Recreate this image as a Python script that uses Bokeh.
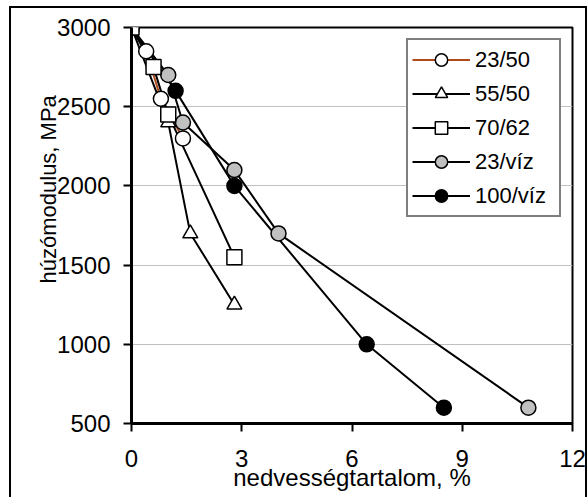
from bokeh.plotting import figure
from bokeh.models import Legend, LegendItem, FixedTicker, Range1d, Title
from bokeh.embed import file_html
from bokeh.resources import INLINE

# ---- data ----
x_23_50 = [0, 0.4, 0.8, 1.4]
y_23_50 = [3000, 2850, 2550, 2300]

x_55_50 = [0, 1.0, 1.6, 2.8]
y_55_50 = [3000, 2400, 1700, 1250]

x_70_62 = [0, 0.6, 1.0, 2.8]
y_70_62 = [3000, 2750, 2450, 1550]

x_23_viz = [0, 1.0, 1.4, 2.8, 4.0, 10.8]
y_23_viz = [3000, 2700, 2400, 2100, 1700, 600]

x_100_viz = [0, 1.2, 2.8, 6.4, 8.5]
y_100_viz = [3000, 2600, 2000, 1000, 600]

x_ticks = [0, 3, 6, 9, 12]
y_ticks = [500, 1000, 1500, 2000, 2500, 3000]

x_title = "nedvességtartalom, %"
y_title = "húzómodulus, MPa"

FONT = "Liberation Sans"
AFS = "24px"
YTFS = "22px"
LFS = "22px"

p = figure(width=588, height=497, output_backend="svg", toolbar_location=None,
           x_range=Range1d(0, 12), y_range=Range1d(500, 3000),
           min_border_left=131, min_border_top=27, min_border_right=16, min_border_bottom=74)
p.styles = {
    "background-color": "white",
    "background-image": "linear-gradient(#000,#000), linear-gradient(#000,#000), linear-gradient(#000,#000)",
    "background-position": "9px 6px, 9px 6px, 585px 6px",
    "background-size": "2px 100%, 578px 2px, 2px 100%",
    "background-repeat": "no-repeat",
}

p.background_fill_color = "white"
p.border_fill_color = None
p.outline_line_color = "black"
p.outline_line_width = 2

p.xgrid.visible = False
p.ygrid.grid_line_color = "#C0C0C0"
p.ygrid.grid_line_width = 1
p.ygrid.ticker = FixedTicker(ticks=y_ticks)

p.xaxis.ticker = FixedTicker(ticks=x_ticks)
p.yaxis.ticker = FixedTicker(ticks=y_ticks)
for ax in (p.xaxis[0], p.yaxis[0]):
    ax.axis_line_width = 3
    ax.axis_line_color = "black"
    ax.major_tick_in = 0
    ax.major_tick_out = 8
    ax.major_tick_line_width = 2
    ax.major_tick_line_color = "black"
    ax.minor_tick_line_color = None
    ax.major_label_text_font = FONT
    ax.major_label_text_font_size = AFS
    ax.major_label_text_color = "black"
    ax.axis_label_text_font = FONT
    ax.axis_label_text_font_size = AFS
    ax.axis_label_text_font_style = "normal"
    ax.axis_label_text_color = "black"

p.xaxis.axis_label = x_title
p.yaxis.major_label_standoff = 13
p.xaxis.major_label_standoff = 18
p.xaxis.axis_label_standoff = -6

# y-axis title, placed higher along the axis as in the original
p.add_layout(Title(text=y_title, align="left", offset=140, standoff=-12,
                   text_font=FONT, text_font_size=YTFS, text_font_style="normal",
                   text_color="black"), "left")

BROWN = "#B04A1C"
GRAY = "#C0C0C0"
MS = 15

# lines
l1 = p.line(x_23_50, y_23_50, line_color=BROWN, line_width=2)
l2 = p.line(x_55_50, y_55_50, line_color="black", line_width=2)
l3 = p.line(x_70_62, y_70_62, line_color="black", line_width=2)
l4 = p.line(x_23_viz, y_23_viz, line_color="black", line_width=2)
l5 = p.line(x_100_viz, y_100_viz, line_color="black", line_width=2)

# markers
m4 = p.scatter(x_23_viz, y_23_viz, marker="circle", size=MS, fill_color=GRAY,
               line_color="black", line_width=1.5)
m5 = p.scatter(x_100_viz, y_100_viz, marker="circle", size=MS, fill_color="black",
               line_color="black", line_width=1.5)
m1 = p.scatter(x_23_50, y_23_50, marker="circle", size=MS, fill_color="white",
               line_color="black", line_width=1.5)
m2 = p.scatter(x_55_50, y_55_50, marker="triangle", size=MS, fill_color="white",
               line_color="black", line_width=1.5)
m3 = p.scatter(x_70_62, y_70_62, marker="square", size=MS, fill_color="white",
               line_color="black", line_width=1.5)

legend = Legend(items=[
    LegendItem(label="23/50", renderers=[l1, m1]),
    LegendItem(label="55/50", renderers=[l2, m2]),
    LegendItem(label="70/62", renderers=[l3, m3]),
    LegendItem(label="23/víz", renderers=[l4, m4]),
    LegendItem(label="100/víz", renderers=[l5, m5]),
], location="top_right")
legend.margin = 11
legend.padding = 4
legend.spacing = 3
legend.glyph_width = 58
legend.glyph_height = 31
legend.label_height = 31
legend.label_width = 80
legend.label_standoff = 5
legend.label_text_font = FONT
legend.label_text_font_size = LFS
legend.label_text_color = "black"
legend.border_line_color = "black"
legend.border_line_width = 2
legend.background_fill_color = "white"
legend.background_fill_alpha = 1
p.add_layout(legend, "center")

open("out.html", "w").write(file_html(p, INLINE))
